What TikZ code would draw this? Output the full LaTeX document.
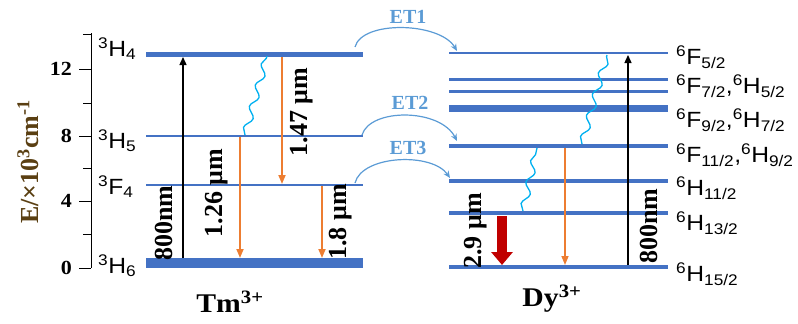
\documentclass[tikz,border=0pt]{standalone}
\usepackage{fontspec}
\setmainfont{Liberation Serif}
\newfontfamily\lsans{Liberation Sans}
\usetikzlibrary{arrows.meta,decorations.pathmorphing}
\definecolor{lvl}{HTML}{4472C4}
\definecolor{org}{HTML}{ED7D31}
\definecolor{etc}{HTML}{5B9BD5}
\definecolor{wav}{HTML}{00B0F0}
\definecolor{dred}{HTML}{C00000}
\definecolor{ylab}{HTML}{5A3F12}
\begin{document}
\begin{tikzpicture}[x=1pt,y=-1pt,
  level/.style={draw=lvl},
  lvlab/.style={anchor=west,inner sep=0pt,xscale=1.12,font=\lsans\fontsize{22}{24}\selectfont},
  tlab/.style={anchor=east,inner sep=0pt,xscale=1.1,font=\bfseries\fontsize{20}{22}\selectfont},
  arlab/.style={rotate=90,inner sep=0pt,font=\bfseries\fontsize{26}{28}\selectfont},
  etlab/.style={inner sep=0pt,text=etc,font=\bfseries\fontsize{20}{22}\selectfont},
  ionlab/.style={inner sep=0pt,xscale=1.1,font=\bfseries\fontsize{27}{29}\selectfont},
  orarrow/.style={draw=org,line width=1.8pt,-{Triangle[width=7pt,length=9pt]}},
  blarrow/.style={draw=black,line width=1.4pt,-{Triangle[width=7pt,length=8pt]}},
  etarrow/.style={draw=etc,line width=1.2pt,-{Stealth[width=6pt,length=7pt]}},
  wave/.style={draw=wav,line width=1.3pt,decorate,decoration={snake,segment length=22pt,amplitude=3.5pt,pre length=0pt,post length=0pt}}
]
\useasboundingbox (0,0) rectangle (798,324);
% axis
\coordinate (axT) at (91,33);
\coordinate (axB) at (91,268);
\draw[line width=1pt] (axT) -- (axB);
\foreach \yy in {69,136,201,268} \draw[line width=1pt] (79,\yy) -- (91,\yy);
\foreach \yy in {34,103,168,234} \draw[line width=1pt] (83,\yy) -- (91,\yy);
\node[tlab] (t12) at (72,69) {12};
\node[tlab] (t8) at (72,136) {8};
\node[tlab] (t4) at (72,201) {4};
\node[tlab] (t0) at (72,268) {0};
\node[rotate=90,inner sep=0pt,text=ylab,font=\bfseries\fontsize{26}{28}\selectfont] (ylabel) at (28,162) {E/×10\textsuperscript{3}cm\textsuperscript{-1}};
% Tm levels
\draw[level,line width=5pt] (146,54) -- (363,54);
\draw[level,line width=2pt] (146,136) -- (363,136);
\draw[level,line width=2pt] (146,185) -- (363,185);
\draw[level,line width=10pt] (146,263) -- (363,263);
\node[lvlab] (lH4) at (98,49) {\textsuperscript{3}H\textsubscript{4}};
\node[lvlab] (lH5) at (98,141) {\textsuperscript{3}H\textsubscript{5}};
\node[lvlab] (lF4) at (98,187) {\textsuperscript{3}F\textsubscript{4}};
\node[lvlab] (lH6) at (98,266) {\textsuperscript{3}H\textsubscript{6}};
% Dy levels
\draw[level,line width=2pt] (449,53) -- (668,53);
\draw[level,line width=3pt] (449,79) -- (668,79);
\draw[level,line width=3pt] (449,91) -- (668,91);
\draw[level,line width=7pt] (449,108) -- (668,108);
\draw[level,line width=4pt] (449,146) -- (668,146);
\draw[level,line width=4pt] (449,181) -- (668,181);
\draw[level,line width=4pt] (449,213) -- (668,213);
\draw[level,line width=4pt] (449,267) -- (668,267);
\node[lvlab] (dF5) at (676,57) {\textsuperscript{6}F\textsubscript{5/2}};
\node[lvlab] (dF7) at (676,86) {\textsuperscript{6}F\textsubscript{7/2},\textsuperscript{6}H\textsubscript{5/2}};
\node[lvlab] (dF9) at (676,120) {\textsuperscript{6}F\textsubscript{9/2},\textsuperscript{6}H\textsubscript{7/2}};
\node[lvlab] (dF11) at (676,155) {\textsuperscript{6}F\textsubscript{11/2},\textsuperscript{6}H\textsubscript{9/2}};
\node[lvlab] (dH11) at (676,188) {\textsuperscript{6}H\textsubscript{11/2}};
\node[lvlab] (dH13) at (676,223) {\textsuperscript{6}H\textsubscript{13/2}};
\node[lvlab] (dH15) at (676,274) {\textsuperscript{6}H\textsubscript{15/2}};
% Tm transitions
\coordinate (a1s) at (183,258); \coordinate (a1e) at (183,57);
\draw[blarrow] (a1s) -- (a1e);
\node[arlab] (l800a) at (164,223) {800nm};
\coordinate (a2s) at (240,137); \coordinate (a2e) at (240,258);
\draw[orarrow] (a2s) -- (a2e);
\node[arlab] (l126) at (217,193) {1.26 μm};
\coordinate (a3s) at (282,57); \coordinate (a3e) at (282,184);
\draw[orarrow] (a3s) -- (a3e);
\node[arlab] (l147) at (302,112) {1.47 μm};
\coordinate (a4s) at (322,186); \coordinate (a4e) at (322,258);
\draw[orarrow] (a4s) -- (a4e);
\node[arlab] (l18) at (341,222) {1.8 μm};
\coordinate (w1s) at (245,135); \coordinate (w1e) at (267,56);
\draw[wave] (w1s) -- (w1e);
% ET
\coordinate (e1s) at (355,47); \coordinate (e1e) at (457,51);
\draw[etarrow] (e1s) .. controls (362,20) and (440,22) .. (e1e);
\node[etlab] (et1) at (408,17) {ET1};
\coordinate (e2s) at (362,135); \coordinate (e2e) at (457,141);
\draw[etarrow] (e2s) .. controls (370,108) and (440,108) .. (e2e);
\node[etlab] (et2) at (410,103) {ET2};
\coordinate (e3s) at (355,183); \coordinate (e3e) at (450,178);
\draw[etarrow] (e3s) .. controls (362,155) and (432,152) .. (e3e);
\node[etlab] (et3) at (408,148) {ET3};
% Dy transitions
\coordinate (r1s) at (502,216); \coordinate (r1e) at (502,265);
\draw[draw=dred,line width=10pt,-{Triangle[width=21pt,length=13pt]}] (r1s) -- (r1e);
\node[arlab] (l29) at (476,231) {2.9 μm};
\coordinate (o1s) at (565,148); \coordinate (o1e) at (565,265);
\draw[orarrow,line width=1.5pt] (o1s) -- (o1e);
\coordinate (b2s) at (628,265); \coordinate (b2e) at (628,55);
\draw[blarrow] (b2s) -- (b2e);
\node[arlab] (l800b) at (649,226) {800nm};
\coordinate (w2s) at (582,144); \coordinate (w2e) at (607,55);
\draw[wave] (w2s) -- (w2e);
\coordinate (w3s) at (523,211); \coordinate (w3e) at (537,148);
\draw[wave] (w3s) -- (w3e);
% ion labels
\node[ionlab] (tm) at (230,302) {Tm\textsuperscript{3+}};
\node[ionlab] (dy) at (552,299) {Dy\textsuperscript{3+}};
\end{tikzpicture}
\end{document}
